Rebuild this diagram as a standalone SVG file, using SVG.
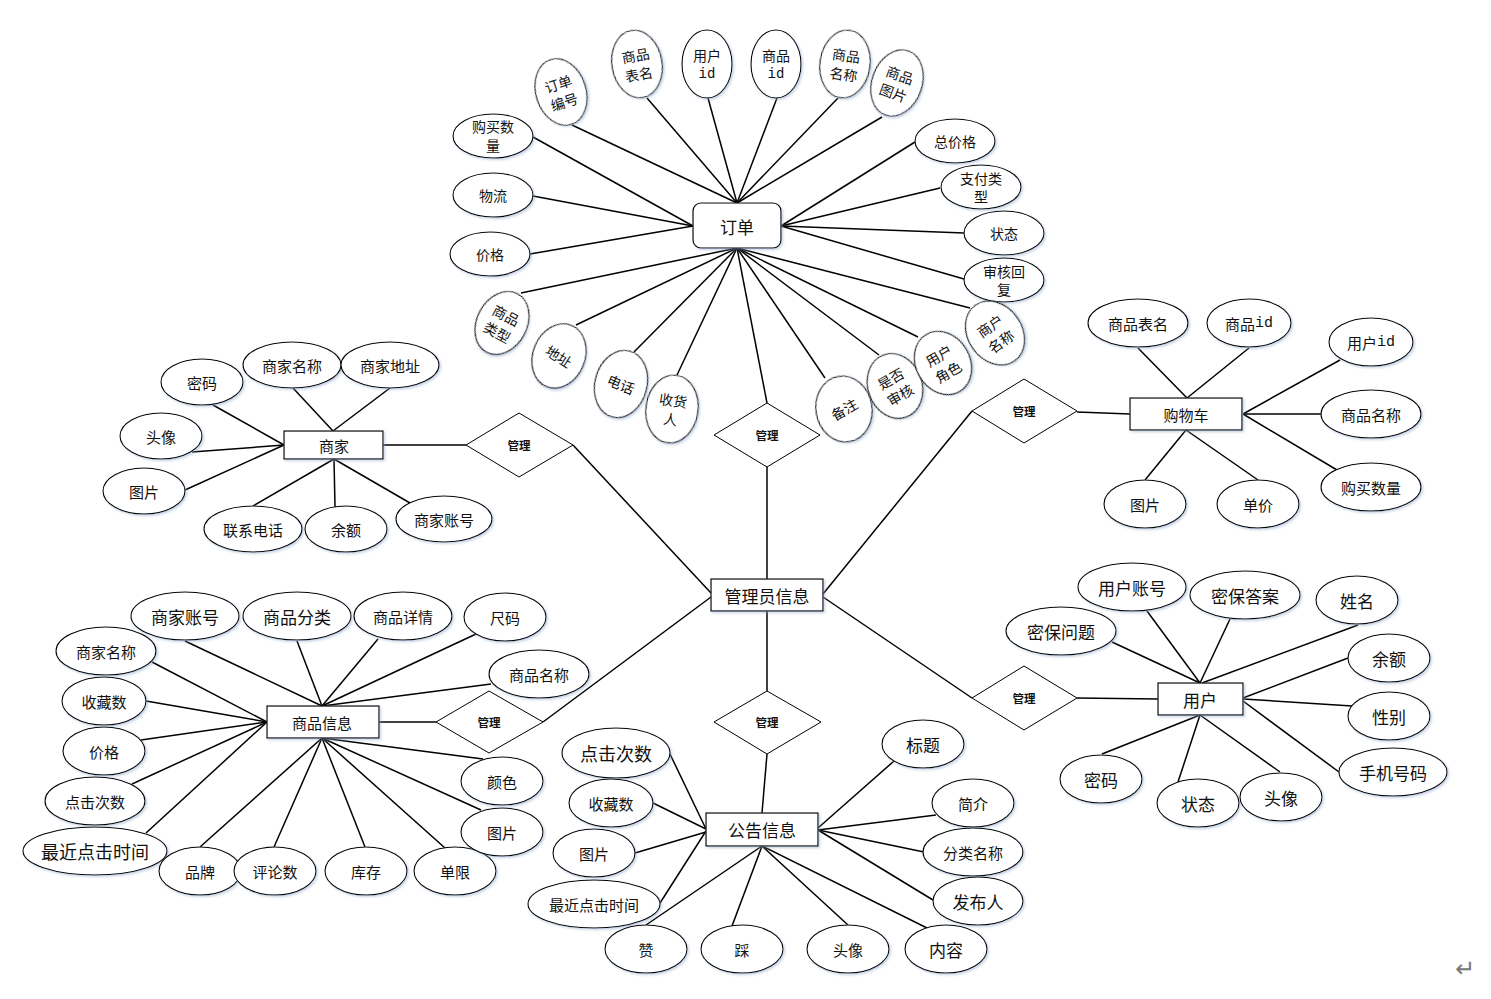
<svg xmlns="http://www.w3.org/2000/svg" width="1491" height="999" viewBox="0 0 1491 999">
<defs>
<filter id="sh" x="-20%" y="-20%" width="140%" height="140%">
<feDropShadow dx="1.5" dy="1.5" stdDeviation="1" flood-color="#8fa8c8" flood-opacity="0.5"/>
</filter>
</defs>
<style>
.e{fill:#fff;stroke:#000;stroke-width:1.1;filter:url(#sh)}
.r{fill:#fff;stroke:#000;stroke-width:1.2;filter:url(#sh)}
.d{fill:#fff;stroke:#000;stroke-width:1}
.ln line{stroke:#000;stroke-width:1.5}
text{font-family:"Noto Sans CJK SC","Noto Sans",sans-serif;fill:#111;text-anchor:middle;dominant-baseline:central;font-size:15px}
.s14{font-size:14px}
.s17{font-size:17px}
.s18{font-size:18px}
.dt{font-size:11.5px;font-weight:bold}
.m{font-family:"Liberation Mono",monospace}
</style>
<rect width="1491" height="999" fill="#fff"/>
<g id="connectors" class="ln">
<!-- order top -->
<line x1="737" y1="203" x2="572" y2="125"/>
<line x1="737" y1="203" x2="647" y2="98"/>
<line x1="737" y1="203" x2="708" y2="98"/>
<line x1="737" y1="203" x2="777" y2="98"/>
<line x1="737" y1="203" x2="838" y2="98"/>
<line x1="737" y1="203" x2="882" y2="117"/>
<!-- order right -->
<line x1="781" y1="226" x2="915" y2="142"/>
<line x1="781" y1="226" x2="940" y2="188"/>
<line x1="781" y1="226" x2="964" y2="233"/>
<line x1="781" y1="226" x2="964" y2="279"/>
<!-- order left -->
<line x1="693" y1="226" x2="533" y2="137"/>
<line x1="693" y1="226" x2="533" y2="196"/>
<line x1="693" y1="226" x2="530" y2="254"/>
<!-- order bottom -->
<line x1="737" y1="248" x2="521" y2="293"/>
<line x1="737" y1="248" x2="576" y2="325"/>
<line x1="737" y1="248" x2="634" y2="352"/>
<line x1="737" y1="248" x2="677" y2="375"/>
<line x1="737" y1="248" x2="767" y2="403"/>
<line x1="737" y1="248" x2="825" y2="378"/>
<line x1="737" y1="248" x2="879" y2="355"/>
<line x1="737" y1="248" x2="918" y2="337"/>
<line x1="737" y1="248" x2="970" y2="308"/>
<line x1="767" y1="467" x2="767" y2="579"/>
<!-- merchant -->
<line x1="213" y1="405" x2="284" y2="445"/>
<line x1="192" y1="452" x2="284" y2="445"/>
<line x1="185" y1="490" x2="284" y2="445"/>
<line x1="293" y1="388" x2="333" y2="431"/>
<line x1="390" y1="388" x2="333" y2="431"/>
<line x1="253" y1="506" x2="334" y2="459"/>
<line x1="335" y1="507" x2="334" y2="459"/>
<line x1="410" y1="503" x2="334" y2="459"/>
<line x1="383" y1="445" x2="466" y2="445"/>
<line x1="573" y1="445" x2="711" y2="593"/>
<!-- cart -->
<line x1="1138" y1="348" x2="1187" y2="398"/>
<line x1="1249" y1="348" x2="1187" y2="398"/>
<line x1="1340" y1="360" x2="1243" y2="414"/>
<line x1="1321" y1="414" x2="1243" y2="414"/>
<line x1="1337" y1="470" x2="1243" y2="414"/>
<line x1="1145" y1="480" x2="1186" y2="430"/>
<line x1="1258" y1="480" x2="1186" y2="430"/>
<line x1="1077" y1="412" x2="1130" y2="414"/>
<line x1="972" y1="411" x2="823" y2="594"/>
<!-- product info -->
<line x1="185" y1="641" x2="322" y2="706"/>
<line x1="297" y1="641" x2="322" y2="706"/>
<line x1="378" y1="639" x2="322" y2="706"/>
<line x1="476" y1="634" x2="322" y2="706"/>
<line x1="491" y1="684" x2="322" y2="706"/>
<line x1="152" y1="662" x2="267" y2="722"/>
<line x1="146" y1="701" x2="267" y2="722"/>
<line x1="141" y1="740" x2="267" y2="722"/>
<line x1="132" y1="784" x2="267" y2="722"/>
<line x1="146" y1="833" x2="267" y2="722"/>
<line x1="200" y1="847" x2="322" y2="738"/>
<line x1="274" y1="847" x2="322" y2="738"/>
<line x1="365" y1="847" x2="322" y2="738"/>
<line x1="445" y1="848" x2="322" y2="738"/>
<line x1="483" y1="759" x2="322" y2="738"/>
<line x1="481" y1="810" x2="322" y2="738"/>
<line x1="379" y1="722" x2="436" y2="722"/>
<line x1="543" y1="722" x2="711" y2="597"/>
<!-- notice -->
<line x1="767" y1="611" x2="767" y2="691"/>
<line x1="767" y1="754" x2="762" y2="813"/>
<line x1="669" y1="752" x2="706" y2="829"/>
<line x1="653" y1="803" x2="706" y2="829"/>
<line x1="635" y1="853" x2="706" y2="832"/>
<line x1="653" y1="914" x2="706" y2="831"/>
<line x1="646" y1="925" x2="762" y2="846"/>
<line x1="732" y1="926" x2="762" y2="846"/>
<line x1="848" y1="925" x2="762" y2="846"/>
<line x1="927" y1="928" x2="762" y2="846"/>
<line x1="894" y1="761" x2="818" y2="828"/>
<line x1="936" y1="815" x2="818" y2="830"/>
<line x1="924" y1="852" x2="818" y2="830"/>
<line x1="933" y1="900" x2="818" y2="830"/>
<!-- user -->
<line x1="1147" y1="611" x2="1200" y2="683"/>
<line x1="1230" y1="619" x2="1200" y2="683"/>
<line x1="1358" y1="625" x2="1202" y2="683"/>
<line x1="1112" y1="642" x2="1200" y2="683"/>
<line x1="1348" y1="658" x2="1243" y2="698"/>
<line x1="1352" y1="706" x2="1243" y2="699"/>
<line x1="1339" y1="772" x2="1243" y2="701"/>
<line x1="1102" y1="754" x2="1200" y2="715"/>
<line x1="1178" y1="782" x2="1200" y2="715"/>
<line x1="1280" y1="772" x2="1200" y2="715"/>
<line x1="1077" y1="698" x2="1158" y2="699"/>
<line x1="972" y1="698" x2="823" y2="597"/>
</g>

<!-- ORDER -->
<g id="order"><rect class="r" x="693" y="203" width="88" height="45" rx="8"/><text class="s17" x="737" y="226">订单</text></g>
<g id="o-ddbh" transform="translate(561,92) rotate(-18)"><ellipse class="e" rx="25" ry="34"/><text class="s14"><tspan x="0" y="-9">订单</tspan><tspan x="0" y="10">编号</tspan></text></g>
<g id="o-spbm" transform="translate(637,64) rotate(-10)"><ellipse class="e" rx="25" ry="34"/><text class="s14"><tspan x="0" y="-9">商品</tspan><tspan x="0" y="10">表名</tspan></text></g>
<g id="o-yhid" transform="translate(707,64)"><ellipse class="e" rx="25" ry="34"/><text class="s14"><tspan x="0" y="-9">用户</tspan><tspan class="m" x="0" y="10">id</tspan></text></g>
<g id="o-spid" transform="translate(776,64)"><ellipse class="e" rx="25" ry="34"/><text class="s14"><tspan x="0" y="-9">商品</tspan><tspan class="m" x="0" y="10">id</tspan></text></g>
<g id="o-spmc" transform="translate(845,64) rotate(8)"><ellipse class="e" rx="25" ry="34"/><text class="s14"><tspan x="0" y="-9">商品</tspan><tspan x="0" y="10">名称</tspan></text></g>
<g id="o-sptp" transform="translate(897,83) rotate(20)"><ellipse class="e" rx="25" ry="34"/><text class="s14"><tspan x="0" y="-9">商品</tspan><tspan x="0" y="10">图片</tspan></text></g>
<g id="o-gmsl"><ellipse class="e" cx="493" cy="136" rx="40" ry="22"/><text class="s14"><tspan x="493" y="126">购买数</tspan><tspan x="493" y="145">量</tspan></text></g>
<g id="o-wl"><ellipse class="e" cx="493" cy="195" rx="40" ry="22"/><text class="s14" x="493" y="195">物流</text></g>
<g id="o-jg"><ellipse class="e" cx="490" cy="254" rx="40" ry="22"/><text class="s14" x="490" y="254">价格</text></g>
<g id="o-zjg"><ellipse class="e" cx="955" cy="141" rx="40" ry="22"/><text class="s14" x="955" y="141">总价格</text></g>
<g id="o-zflx"><ellipse class="e" cx="981" cy="187" rx="40" ry="22"/><text class="s14"><tspan x="981" y="178">支付类</tspan><tspan x="981" y="196">型</tspan></text></g>
<g id="o-zt"><ellipse class="e" cx="1004" cy="233" rx="40" ry="22"/><text class="s14" x="1004" y="233">状态</text></g>
<g id="o-shhf"><ellipse class="e" cx="1004" cy="280" rx="40" ry="22"/><text class="s14"><tspan x="1004" y="271">审核回</tspan><tspan x="1004" y="289">复</tspan></text></g>
<g id="o-splx" transform="translate(502,323) rotate(28)"><ellipse class="e" rx="25" ry="33"/><text class="s14"><tspan x="0" y="-9">商品</tspan><tspan x="0" y="10">类型</tspan></text></g>
<g id="o-dz" transform="translate(559,356) rotate(22)"><ellipse class="e" rx="26" ry="33"/><text class="s14" x="0" y="0" transform="rotate(10)">地址</text></g>
<g id="o-dh" transform="translate(621,384) rotate(15)"><ellipse class="e" rx="26" ry="34"/><text class="s14" x="0" y="0" transform="rotate(8)">电话</text></g>
<g id="o-shr" transform="translate(672,409) rotate(8)"><ellipse class="e" rx="26" ry="34"/><text class="s14"><tspan x="0" y="-9">收货</tspan><tspan x="0" y="10">人</tspan></text></g>
<g id="o-bz" transform="translate(844,409) rotate(-10)"><ellipse class="e" rx="28" ry="33"/><text class="s14" x="0" y="0" transform="rotate(-20)">备注</text></g>
<g id="o-sfsh" transform="translate(895,386) rotate(-20)"><ellipse class="e" rx="27" ry="33"/><text class="s14" transform="rotate(-10)"><tspan x="0" y="-9">是否</tspan><tspan x="0" y="10">审核</tspan></text></g>
<g id="o-yhjs" transform="translate(943,363) rotate(-30)"><ellipse class="e" rx="27" ry="33"/><text class="s14"><tspan x="0" y="-9">用户</tspan><tspan x="0" y="10">角色</tspan></text></g>
<g id="o-shmc" transform="translate(995,333) rotate(-35)"><ellipse class="e" rx="27" ry="34"/><text class="s14"><tspan x="0" y="-9">商户</tspan><tspan x="0" y="10">名称</tspan></text></g>
<g id="rel-order"><polygon class="d" points="714,435 767,403 820,435 767,467"/><text class="dt" x="767" y="435">管理</text></g>

<!-- MERCHANT -->
<g id="merchant"><rect class="r" x="284" y="431" width="99" height="28"/><text x="334" y="445">商家</text></g>
<g id="m-mm"><ellipse class="e" cx="202" cy="382" rx="41" ry="23"/><text x="202" y="382">密码</text></g>
<g id="m-tx"><ellipse class="e" cx="161" cy="436" rx="41" ry="23"/><text x="161" y="436">头像</text></g>
<g id="m-tp"><ellipse class="e" cx="144" cy="491" rx="41" ry="23"/><text x="144" y="491">图片</text></g>
<g id="m-sjmc"><ellipse class="e" cx="292" cy="365" rx="49" ry="23"/><text x="292" y="365">商家名称</text></g>
<g id="m-sjdz"><ellipse class="e" cx="390" cy="365" rx="49" ry="23"/><text x="390" y="365">商家地址</text></g>
<g id="m-lxdh"><ellipse class="e" cx="253" cy="529" rx="49" ry="23"/><text x="253" y="529">联系电话</text></g>
<g id="m-ye"><ellipse class="e" cx="346" cy="529" rx="41" ry="23"/><text x="346" y="529">余额</text></g>
<g id="m-sjzh"><ellipse class="e" cx="444" cy="519" rx="48" ry="23"/><text x="444" y="519">商家账号</text></g>
<g id="rel-merchant"><polygon class="d" points="466,445 519,413 573,445 519,477"/><text class="dt" x="519" y="445">管理</text></g>

<!-- CART -->
<g id="cart"><rect class="r" x="1130" y="398" width="112" height="32"/><text x="1186" y="414">购物车</text></g>
<g id="c-spbm"><ellipse class="e" cx="1138" cy="323" rx="50" ry="24"/><text x="1138" y="323">商品表名</text></g>
<g id="c-spid"><ellipse class="e" cx="1249" cy="323" rx="42" ry="24"/><text x="1249" y="323">商品<tspan class="m">id</tspan></text></g>
<g id="c-yhid"><ellipse class="e" cx="1371" cy="342" rx="42" ry="24"/><text x="1371" y="342">用户<tspan class="m">id</tspan></text></g>
<g id="c-spmc"><ellipse class="e" cx="1371" cy="414" rx="50" ry="24"/><text x="1371" y="414">商品名称</text></g>
<g id="c-gmsl"><ellipse class="e" cx="1371" cy="487" rx="50" ry="24"/><text x="1371" y="487">购买数量</text></g>
<g id="c-tp"><ellipse class="e" cx="1145" cy="504" rx="41" ry="24"/><text x="1145" y="504">图片</text></g>
<g id="c-dj"><ellipse class="e" cx="1258" cy="504" rx="41" ry="24"/><text x="1258" y="504">单价</text></g>
<g id="rel-cart"><polygon class="d" points="972,411 1024,379 1077,411 1024,443"/><text class="dt" x="1024" y="411">管理</text></g>

<!-- ADMIN -->
<g id="admin"><rect class="r" x="711" y="579" width="112" height="32"/><text class="s17" x="767" y="595">管理员信息</text></g>

<!-- PRODUCT INFO -->
<g id="product"><rect class="r" x="267" y="706" width="112" height="32"/><text x="322" y="722">商品信息</text></g>
<g id="p-sjzh"><ellipse class="e" cx="185" cy="616" rx="54" ry="24"/><text class="s17" x="185" y="616">商家账号</text></g>
<g id="p-spfl"><ellipse class="e" cx="297" cy="616" rx="54" ry="24"/><text class="s17" x="297" y="616">商品分类</text></g>
<g id="p-spxq"><ellipse class="e" cx="403" cy="616" rx="49" ry="24"/><text x="403" y="616">商品详情</text></g>
<g id="p-cm"><ellipse class="e" cx="505" cy="617" rx="41" ry="24"/><text x="505" y="617">尺码</text></g>
<g id="p-spmc"><ellipse class="e" cx="539" cy="674" rx="50" ry="24"/><text x="539" y="674">商品名称</text></g>
<g id="p-sjmc"><ellipse class="e" cx="106" cy="651" rx="50" ry="24"/><text x="106" y="651">商家名称</text></g>
<g id="p-scs"><ellipse class="e" cx="104" cy="701" rx="42" ry="24"/><text x="104" y="701">收藏数</text></g>
<g id="p-jg"><ellipse class="e" cx="104" cy="751" rx="41" ry="24"/><text x="104" y="751">价格</text></g>
<g id="p-djcs"><ellipse class="e" cx="95" cy="801" rx="50" ry="24"/><text x="95" y="801">点击次数</text></g>
<g id="p-zjdjsj"><ellipse class="e" cx="95" cy="851" rx="72" ry="24"/><text class="s18" x="95" y="851">最近点击时间</text></g>
<g id="p-pp"><ellipse class="e" cx="200" cy="871" rx="41" ry="24"/><text x="200" y="871">品牌</text></g>
<g id="p-pls"><ellipse class="e" cx="275" cy="871" rx="41" ry="24"/><text x="275" y="871">评论数</text></g>
<g id="p-kc"><ellipse class="e" cx="366" cy="871" rx="41" ry="24"/><text x="366" y="871">库存</text></g>
<g id="p-dx"><ellipse class="e" cx="455" cy="871" rx="41" ry="24"/><text x="455" y="871">单限</text></g>
<g id="p-ys"><ellipse class="e" cx="502" cy="781" rx="41" ry="24"/><text x="502" y="781">颜色</text></g>
<g id="p-tp"><ellipse class="e" cx="502" cy="832" rx="41" ry="24"/><text x="502" y="832">图片</text></g>
<g id="rel-product"><polygon class="d" points="436,722 489,691 543,722 489,753"/><text class="dt" x="489" y="722">管理</text></g>

<!-- NOTICE -->
<g id="rel-notice"><polygon class="d" points="714,722 767,691 821,722 767,754"/><text class="dt" x="767" y="722">管理</text></g>
<g id="notice"><rect class="r" x="706" y="813" width="112" height="33"/><text class="s17" x="762" y="829">公告信息</text></g>
<g id="n-djcs"><ellipse class="e" cx="616" cy="753" rx="54" ry="25"/><text class="s18" x="616" y="753">点击次数</text></g>
<g id="n-scs"><ellipse class="e" cx="611" cy="803" rx="42" ry="24"/><text x="611" y="803">收藏数</text></g>
<g id="n-tp"><ellipse class="e" cx="594" cy="853" rx="41" ry="24"/><text x="594" y="853">图片</text></g>
<g id="n-zjdjsj"><ellipse class="e" cx="594" cy="904" rx="66" ry="24"/><text x="594" y="904">最近点击时间</text></g>
<g id="n-z"><ellipse class="e" cx="646" cy="949" rx="41" ry="24"/><text x="646" y="949">赞</text></g>
<g id="n-c"><ellipse class="e" cx="742" cy="949" rx="41" ry="24"/><text x="742" y="949">踩</text></g>
<g id="n-tx"><ellipse class="e" cx="848" cy="949" rx="41" ry="24"/><text x="848" y="949">头像</text></g>
<g id="n-nr"><ellipse class="e" cx="946" cy="949" rx="41" ry="24"/><text class="s17" x="946" y="949">内容</text></g>
<g id="n-bt"><ellipse class="e" cx="923" cy="744" rx="41" ry="24"/><text class="s17" x="923" y="744">标题</text></g>
<g id="n-jj"><ellipse class="e" cx="973" cy="803" rx="41" ry="24"/><text x="973" y="803">简介</text></g>
<g id="n-flmc"><ellipse class="e" cx="973" cy="852" rx="50" ry="24"/><text x="973" y="852">分类名称</text></g>
<g id="n-fbr"><ellipse class="e" cx="978" cy="901" rx="45" ry="24"/><text class="s17" x="978" y="901">发布人</text></g>

<!-- USER -->
<g id="rel-user"><polygon class="d" points="972,698 1024,666 1077,698 1024,730"/><text class="dt" x="1024" y="698">管理</text></g>
<g id="user"><rect class="r" x="1158" y="683" width="85" height="32"/><text class="s17" x="1200" y="699">用户</text></g>
<g id="u-yhzh"><ellipse class="e" cx="1132" cy="587" rx="54" ry="24"/><text class="s17" x="1132" y="587">用户账号</text></g>
<g id="u-mbda"><ellipse class="e" cx="1245" cy="595" rx="55" ry="24"/><text class="s17" x="1245" y="595">密保答案</text></g>
<g id="u-xm"><ellipse class="e" cx="1357" cy="600" rx="41" ry="24"/><text class="s17" x="1357" y="600">姓名</text></g>
<g id="u-mbwt"><ellipse class="e" cx="1061" cy="631" rx="55" ry="24"/><text class="s17" x="1061" y="631">密保问题</text></g>
<g id="u-ye"><ellipse class="e" cx="1389" cy="658" rx="41" ry="24"/><text class="s17" x="1389" y="658">余额</text></g>
<g id="u-xb"><ellipse class="e" cx="1389" cy="716" rx="41" ry="24"/><text class="s17" x="1389" y="716">性别</text></g>
<g id="u-sjhm"><ellipse class="e" cx="1393" cy="772" rx="54" ry="24"/><text class="s17" x="1393" y="772">手机号码</text></g>
<g id="u-mm"><ellipse class="e" cx="1101" cy="779" rx="41" ry="24"/><text class="s17" x="1101" y="779">密码</text></g>
<g id="u-zt"><ellipse class="e" cx="1198" cy="803" rx="41" ry="24"/><text class="s17" x="1198" y="803">状态</text></g>
<g id="u-tx"><ellipse class="e" cx="1281" cy="797" rx="41" ry="24"/><text class="s17" x="1281" y="797">头像</text></g>

<text x="1465" y="969" style="font-family:'DejaVu Sans',sans-serif;font-size:24px;fill:#777">↵</text>
</svg>
